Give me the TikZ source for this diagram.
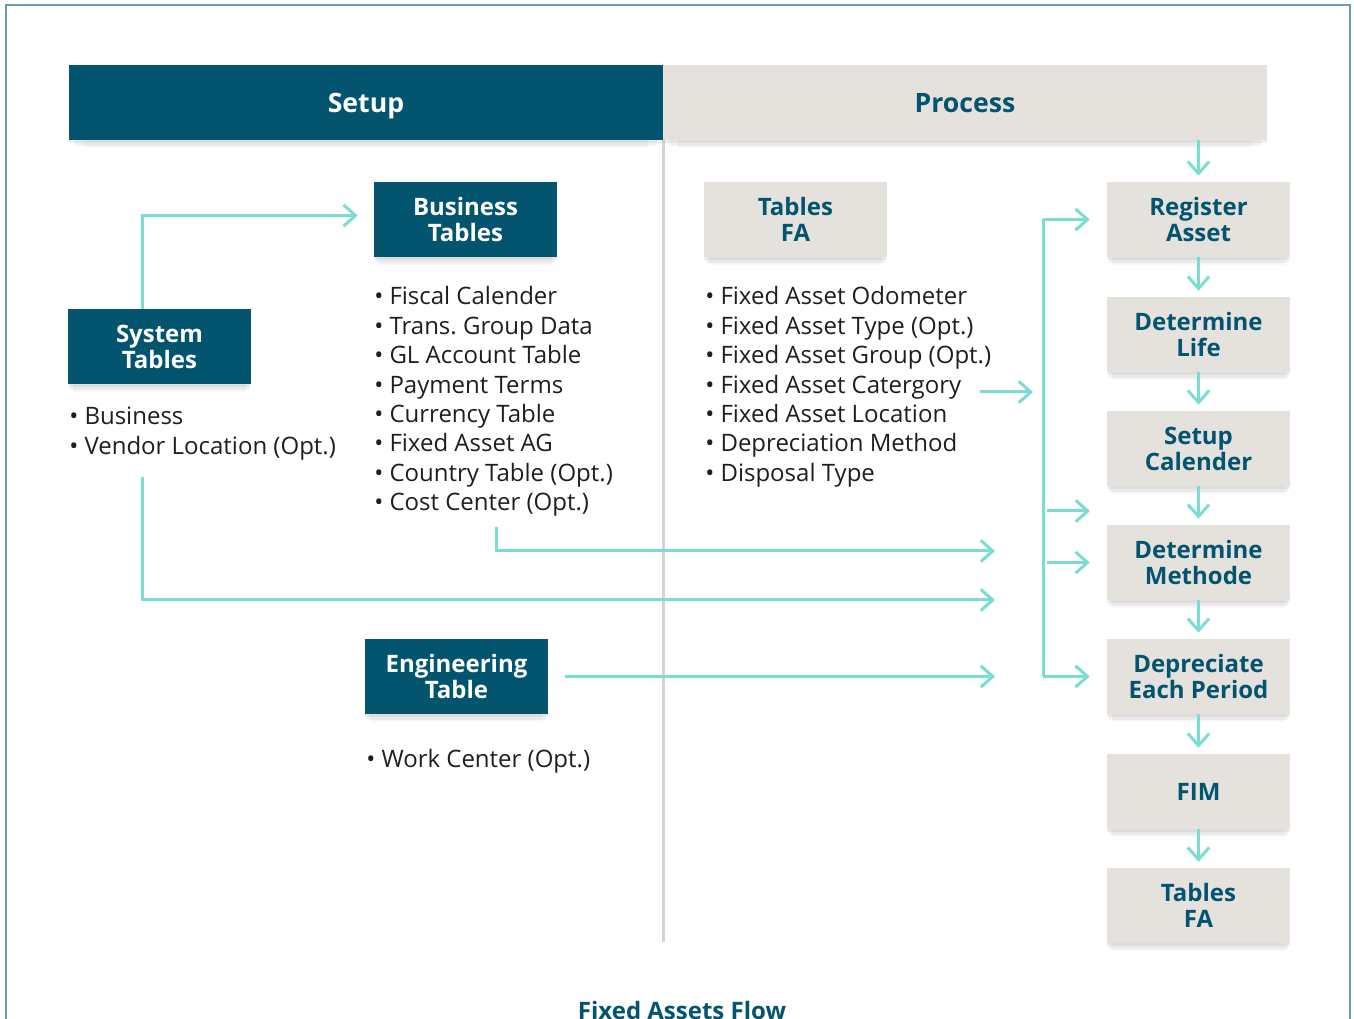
\documentclass[tikz,border=0pt]{standalone}
\usepackage{fontspec}
\setmainfont{Open Sans}
\usetikzlibrary{arrows.meta,shadows,positioning}
\frenchspacing

\definecolor{fateal}{HTML}{03546F}
\definecolor{fagray}{HTML}{E5E2DE}
\definecolor{faline}{HTML}{7ADCD3}
\definecolor{fadiv}{HTML}{D8D3CE}
\definecolor{faframe}{HTML}{6C9BB0}
\definecolor{fatext}{HTML}{1E1E1E}

\tikzset{
	soft shadow/.style = {
		drop shadow = {shadow xshift = 0pt, shadow yshift = -2pt, opacity = 0.06, fill = black},
		drop shadow = {shadow xshift = 0pt, shadow yshift = -5pt, shadow scale = 0.98, opacity = 0.05, fill = black},
		drop shadow = {shadow xshift = 0pt, shadow yshift = -8pt, shadow scale = 0.95, opacity = 0.03, fill = black}},
	darkbox/.style = {fill = fateal, text = white, font = \bfseries\fontsize{18}{19.5}\selectfont, align = center, minimum width = 137.25pt, minimum height = 56.25pt, inner sep = 0pt, soft shadow},
	lightbox/.style = {darkbox, fill = fagray, text = fateal},
	headbar/.style = {minimum height = 56.25pt, inner sep = 0pt, text height = 17pt, text depth = 2.5pt, font = \bfseries\fontsize{20}{24}\selectfont, soft shadow},
	item/.style = {anchor = base west, inner sep = 0pt, font = \fontsize{18}{22}\selectfont, text = fatext},
	flow/.style = {draw = faline, line width = 2.25pt, -{Straight Barb[length = 9pt, width = 16pt]}},
	plainflow/.style = {draw = faline, line width = 2.25pt},
}

\begin{document}
\begin{tikzpicture}[x = 0.75pt, y = -0.75pt]
	\useasboundingbox (0, 0) rectangle (1354, 1019);
	\draw[faframe, line width = 1.1pt] (6, 1019) -- (6, 5) -- (1350, 5) -- (1350, 1019);
	
	% divider between the two halves
	\coordinate (divtop) at (663, 140);
	\coordinate (divbot) at (663, 942);
	\draw[fadiv, line width = 2.25pt] (divtop) -- (divbot);
	
	% header bar
	\node[headbar, fill = fateal, text = white, minimum width = 445.5pt] (setup) at (366, 102.5) {Setup};
	\node[headbar, fill = fagray, text = fateal, minimum width = 453pt] (process) at (965, 102.5) {Process};
	
	% setup side
	\node[darkbox] (bt) at (465.5, 219.5) {Business\\Tables};
	\node[darkbox] (st) at (159.5, 346.5) {System\\Tables};
	\node[darkbox] (et) at (456.5, 676.5) {Engineering\\Table};
	\node[lightbox] (tfa) at (795.5, 219.5) {Tables\\FA};
	
	\foreach \t [count = \i] in {Business, Vendor Location (Opt.)}
	\node[item] (sl\i) at (69, {425 + 30*(\i - 1)}) {• \t};
	
	\foreach \t [count = \i] in {Fiscal Calender, Trans. Group Data, GL Account Table, Payment Terms, Currency Table, Fixed Asset AG, Country Table (Opt.), Cost Center (Opt.)}
	\node[item] (bl\i) at (374, {305 + 29.4*(\i - 1)}) {• \t};
	
	\node[item] (el1) at (366, 768) {• Work Center (Opt.)};
	
	\foreach \t [count = \i] in {Fixed Asset Odometer, Fixed Asset Type (Opt.), Fixed Asset Group (Opt.), Fixed Asset Catergory, Fixed Asset Location, Depreciation Method, Disposal Type}
	\node[item] (fl\i) at (705, {305 + 29.4*(\i - 1)}) {• \t};
	
	% process column
	\foreach \n/\y/\t in {ra/219.5/{Register\\Asset}, dl/334.5/{Determine\\Life}, sc/448.5/{Setup\\Calender}, dm/562.5/{Determine\\Methode}, dp/676.5/{Depreciate\\Each Period}, fim/791.5/{FIM}, tfb/905.5/{Tables\\FA}}
	\node[lightbox] (\n) at (1198.5, \y) {\t};
	
	\draw[flow, shorten > = 4.5pt] (process.south -| ra.north) -- (ra.north);
	\foreach \a/\b in {ra/dl, dl/sc, sc/dm, dm/dp, dp/fim, fim/tfb}
	\draw[flow, shorten > = 4.5pt] (\a.south) -- (\b.north);
	
	% connectors
	\draw[flow] ([xshift = -13pt]st.north) |- ([xshift = -12pt, yshift = 3pt]bt.west);
	
	\coordinate (sltail) at (142, 477);
	\coordinate (slhead) at (995, 600);
	\draw[flow] (sltail) |- (slhead);
	
	\coordinate (bltail) at (496, 527);
	\coordinate (blhead) at (995, 551);
	\draw[flow] (bltail) |- (blhead);
	
	\coordinate (elhead) at (995, 676.5);
	\draw[flow] ([xshift = 12.75pt]et.east) -- (elhead);
	
	\coordinate (fltail) at (980, 392);
	\coordinate (flhead) at (1033, 392);
	\draw[flow] (fltail) -- (flhead);
	
	\coordinate (brtop) at (1043, 219.5);
	\coordinate (brbot) at (1043, 676.5);
	\draw[plainflow] (brtop) -- (brbot);
	\draw[flow, shorten > = 12.75pt] (brtop) -- (ra.west);
	\draw[flow, shorten > = 12.75pt] (brbot) -- (dp.west);
	\coordinate (brmid) at (1047, 511);
	\coordinate (brmidhead) at (1090, 511);
	\draw[flow] (brmid) -- (brmidhead);
	\coordinate (brdm) at (1047, 562.5);
	\draw[flow, shorten > = 12.75pt] (brdm) -- (dm.west);
	
	\node[anchor = north, inner sep = 0pt, text = fateal, font = \bfseries\fontsize{18}{20}\selectfont] (caption) at (682, 1001) {Fixed Assets Flow};
\end{tikzpicture}
\end{document}
